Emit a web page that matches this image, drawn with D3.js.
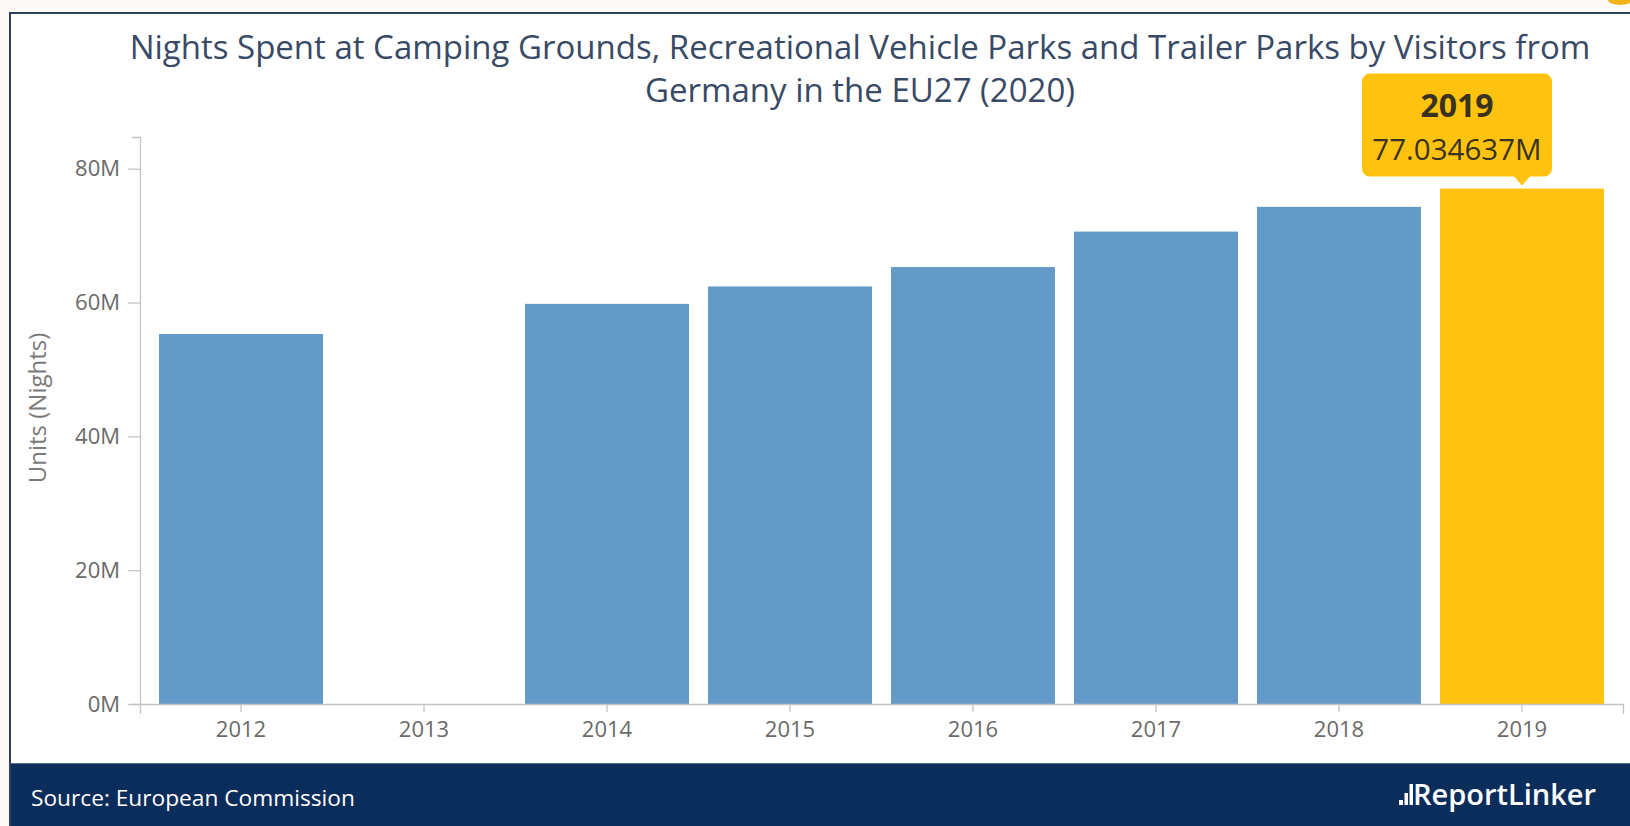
<!DOCTYPE html>
<html><head><meta charset="utf-8">
<script src="https://cdn.jsdelivr.net/npm/d3@7"></script>
<style>
html,body{margin:0;padding:0;background:#fbfaf6;overflow:hidden;}
svg{display:block;font-family:"Open Sans",sans-serif;}
</style>
</head><body>
<svg id="c" width="1630" height="826"></svg>
<script>
// ---- data ----
const years = ["2012","2013","2014","2015","2016","2017","2018","2019"];
const nights = [55.3e6, null, 59.8e6, 62.4e6, 65.3e6, 70.6e6, 74.3e6, 77.034637e6];
const yTicks = [0, 20e6, 40e6, 60e6, 80e6];
const titleLines = ["Nights Spent at Camping Grounds, Recreational Vehicle Parks and Trailer Parks by Visitors from", "Germany in the EU27 (2020)"];
const highlightYear = "2019";
const yLabel = "Units (Nights)";
const sourceText = "Source: European Commission";
const brandText = "ReportLinker";

// ---- styles ----
const BLUE = "#639ac7", YELLOW = "#ffc30f", NAVY = "#0b2d5c";
const svg = d3.select("#c");

// frame
svg.append("rect").attr("x", 10).attr("y", 13).attr("width", 1660).attr("height", 860)
  .attr("fill", "#ffffff").attr("stroke", "#2f3f55").attr("stroke-width", 2);
// small decoration top-right
svg.append("ellipse").attr("cx", 1620).attr("cy", 0).attr("rx", 12).attr("ry", 5).attr("fill", "#f2b418");

// title
svg.append("g").selectAll("text").data(titleLines).join("text")
  .attr("x", 860).attr("y", (d, i) => 59 + i * 43)
  .attr("text-anchor", "middle").attr("font-size", 33).attr("fill", "#384a66")
  .text(d => d);

// scales
const x = d3.scaleBand().domain(years).range([140, 1623]).paddingInner(0.104).paddingOuter(0.104);
const maxV = d3.max(nights);
const y = d3.scaleLinear().domain([0, maxV * 1.1]).range([704, 137]);

// bars
const data = years.map((yr, i) => ({year: yr, v: nights[i]})).filter(d => d.v != null);
svg.append("g").selectAll("rect").data(data).join("rect")
  .attr("x", d => x(d.year)).attr("width", x.bandwidth())
  .attr("y", d => y(d.v)).attr("height", d => y(0) - y(d.v))
  .attr("fill", d => d.year === highlightYear ? YELLOW : BLUE);

// axes
const yAxis = svg.append("g").attr("transform", "translate(140,0)")
  .call(d3.axisLeft(y).tickValues(yTicks).tickFormat(d => (d / 1e6) + "M")
    .tickSize(12).tickSizeOuter(8).tickPadding(8));
const xAxis = svg.append("g").attr("transform", `translate(0,${y(0)})`)
  .call(d3.axisBottom(x).tickSize(8).tickSizeOuter(10).tickPadding(9));
[yAxis, xAxis].forEach(a => {
  a.selectAll("path,line").attr("stroke", "#c4c4c4").attr("stroke-width", 1.3);
  a.selectAll("text").attr("font-size", 22).attr("fill", "#6a6a6a").attr("font-family", '"Open Sans",sans-serif');
});

// y label
svg.append("text").attr("transform", "translate(46,408) rotate(-90)")
  .attr("text-anchor", "middle").attr("font-size", 24).attr("fill", "#7a7a7a").text(yLabel);

// tooltip
const hv = nights[years.indexOf(highlightYear)];
const tipX = x(highlightYear) + x.bandwidth() / 2, tipY = y(hv) - 3;
const bw = 190, bh = 103, br = 8;
const bx1 = tipX + 30, bx0 = bx1 - bw, by1 = tipY - 9, by0 = by1 - bh;
const p = d3.path();
p.moveTo(bx0 + br, by0);
p.lineTo(bx1 - br, by0); p.arcTo(bx1, by0, bx1, by0 + br, br);
p.lineTo(bx1, by1 - br); p.arcTo(bx1, by1, bx1 - br, by1, br);
p.lineTo(tipX + 8, by1); p.lineTo(tipX, tipY); p.lineTo(tipX - 8, by1);
p.lineTo(bx0 + br, by1); p.arcTo(bx0, by1, bx0, by1 - br, br);
p.lineTo(bx0, by0 + br); p.arcTo(bx0, by0, bx0 + br, by0, br);
p.closePath();
svg.append("path").attr("d", p.toString()).attr("fill", YELLOW);
const cx = (bx0 + bx1) / 2;
svg.append("text").attr("x", cx).attr("y", by0 + 43).attr("text-anchor", "middle")
  .attr("font-size", 32).attr("font-weight", 700).attr("fill", "#3a3220").text(highlightYear);
svg.append("text").attr("x", cx).attr("y", by0 + 86).attr("text-anchor", "middle")
  .attr("font-size", 29.5).attr("fill", "#3a3220").text((+(hv / 1e6).toFixed(6)) + "M");

// footer
svg.append("rect").attr("x", 11).attr("y", 763).attr("width", 1640).attr("height", 80).attr("fill", NAVY);
svg.append("line").attr("x1", 11).attr("x2", 1630).attr("y1", 763.5).attr("y2", 763.5).attr("stroke", "#5d6f88").attr("stroke-width", 1);
svg.append("text").attr("x", 31).attr("y", 806).attr("font-size", 22.7).attr("fill", "#ffffff").text(sourceText);
// brand icon
const icon = svg.append("g").attr("fill", "#ffffff");
icon.append("rect").attr("x", 1399).attr("y", 800).attr("width", 4).attr("height", 5);
icon.append("rect").attr("x", 1404.5).attr("y", 793).attr("width", 3.5).attr("height", 12);
icon.append("rect").attr("x", 1409.5).attr("y", 784).attr("width", 3.5).attr("height", 21);
svg.append("text").attr("x", 1413).attr("y", 805).attr("font-size", 29).attr("font-weight", 600)
  .attr("letter-spacing", 0).attr("fill", "#ffffff").text(brandText);
</script>
</body></html>
